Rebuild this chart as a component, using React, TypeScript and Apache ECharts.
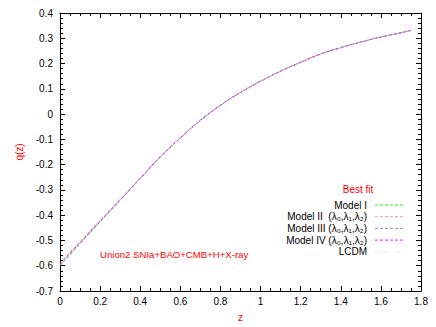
import React, { useEffect, useRef } from "react";
import * as echarts from "echarts";

const zValues = [0, 0.1, 0.2, 0.3, 0.4, 0.5, 0.6, 0.7, 0.8, 0.9, 1.0, 1.1, 1.2, 1.3, 1.4, 1.5, 1.6, 1.7, 1.75];
const modelI = [-0.600, -0.513, -0.427, -0.341, -0.255, -0.170, -0.095, -0.025, 0.035, 0.085, 0.130, 0.170, 0.205, 0.238, 0.263, 0.285, 0.305, 0.322, 0.331];
const modelII = [-0.588, -0.505, -0.421, -0.337, -0.253, -0.169, -0.094, -0.024, 0.035, 0.086, 0.130, 0.170, 0.205, 0.237, 0.263, 0.285, 0.305, 0.322, 0.332];
const modelIII = [-0.598, -0.512, -0.426, -0.340, -0.255, -0.170, -0.095, -0.025, 0.035, 0.085, 0.130, 0.170, 0.205, 0.238, 0.263, 0.285, 0.305, 0.322, 0.331];
const modelIV = [-0.592, -0.508, -0.423, -0.339, -0.254, -0.169, -0.094, -0.024, 0.035, 0.086, 0.130, 0.170, 0.205, 0.238, 0.263, 0.285, 0.305, 0.322, 0.332];
const lcdm = [-0.595, -0.510, -0.425, -0.340, -0.255, -0.170, -0.095, -0.025, 0.035, 0.085, 0.130, 0.170, 0.205, 0.238, 0.263, 0.285, 0.305, 0.322, 0.332];

const seriesNames = ["Model I", "Model II", "Model III", "Model IV", "LCDM"];
const legendLabels = ["Model I", "Model II  (λ₀,λ₁,λ₂)", "Model III (λ₀,λ₁,λ₂)", "Model IV (λ₀,λ₁,λ₂)", "LCDM"];
const seriesColors = ["#22ee22", "#f59a9a", "#8a8aee", "#ee22ee", "#dddddd"];
const seriesDash = [[3, 2], [3, 2], [3, 2], [3, 2], [1, 2]];
const seriesValues = [modelI, modelII, modelIII, modelIV, lcdm];

const FONT = "'Liberation Sans', Arial, Helvetica, sans-serif";

export default function App() {
  const ref = useRef<HTMLDivElement>(null);
  useEffect(() => {
    if (!ref.current) return;
    const chart = echarts.init(ref.current, undefined, { renderer: "svg" });
    const fmt = (v: number) => {
      const s = parseFloat(v.toFixed(1)).toString();
      return s === "-0" ? "0" : s;
    };
    const axisCommon = {
      axisLine: { show: true, onZero: false, lineStyle: { color: "#000", width: 1 } },
      axisTick: { show: true, inside: true, length: 5, lineStyle: { color: "#000" } },
      splitLine: { show: false },
    };
    const legendGraphics: any[] = [
      {
        type: "text",
        x: 358,
        y: 189,
        style: { text: "Best fit", fill: "#ff0000", font: `10px ${FONT}`, textAlign: "center", textVerticalAlign: "middle" },
      },
    ];
    legendLabels.forEach((lab, i) => {
      const y = 205 + i * 11.7;
      legendGraphics.push({
        type: "text",
        x: 367,
        y: y,
        style: { text: lab, fill: "#000", font: `10px ${FONT}`, textAlign: "right", textVerticalAlign: "middle" },
      });
      legendGraphics.push({
        type: "line",
        shape: { x1: 375, y1: y, x2: 403, y2: y },
        style: { stroke: seriesColors[i], lineWidth: 1, lineDash: seriesDash[i] },
      });
    });
    chart.setOption({
      animation: false,
      backgroundColor: "#fff",
      grid: { left: 60, top: 13, right: 15, bottom: 34, containLabel: false },
      xAxis: [
        {
          type: "value",
          min: 0,
          max: 1.8,
          interval: 0.2,
          position: "bottom",
          ...axisCommon,
          minorTick: { show: true, splitNumber: 4, length: 3, lineStyle: { color: "#000" } },
          axisLabel: { color: "#000", fontSize: 10, fontFamily: FONT, margin: 5, formatter: fmt },
          name: "z",
          nameLocation: "middle",
          nameGap: 21,
          nameTextStyle: { color: "#ff0000", fontSize: 10, fontFamily: FONT },
        },
        {
          type: "value",
          min: 0,
          max: 1.8,
          interval: 0.2,
          position: "top",
          ...axisCommon,
          minorTick: { show: true, splitNumber: 4, length: 3, lineStyle: { color: "#000" } },
          axisLabel: { show: false },
        },
      ],
      yAxis: [
        {
          type: "value",
          min: -0.7,
          max: 0.4,
          interval: 0.1,
          position: "left",
          ...axisCommon,
          minorTick: { show: true, splitNumber: 5, length: 3, lineStyle: { color: "#000" } },
          axisLabel: { color: "#000", fontSize: 10, fontFamily: FONT, margin: 7, formatter: fmt },
          name: "q(z)",
          nameLocation: "middle",
          nameGap: 36,
          nameRotate: 90,
          nameTextStyle: { color: "#ff0000", fontSize: 10, fontFamily: FONT },
        },
        {
          type: "value",
          min: -0.7,
          max: 0.4,
          interval: 0.1,
          position: "right",
          ...axisCommon,
          minorTick: { show: true, splitNumber: 5, length: 3, lineStyle: { color: "#000" } },
          axisLabel: { show: false },
        },
      ],
      series: seriesNames.map((name, i) => ({
        name,
        type: "line",
        xAxisIndex: 0,
        yAxisIndex: 0,
        smooth: true,
        showSymbol: false,
        symbol: "none",
        data: zValues.map((z, k) => [z, seriesValues[i][k]]),
        lineStyle: { color: seriesColors[i], width: 1, type: seriesDash[i] },
        itemStyle: { color: seriesColors[i] },
      })),
      graphic: [
        {
          type: "text",
          x: 100,
          y: 254,
          style: {
            text: "Union2 SNIa+BAO+CMB+H+X-ray",
            fill: "#ff0000",
            font: `9.6px ${FONT}`,
            textAlign: "left",
            textVerticalAlign: "middle",
          },
        },
        ...legendGraphics,
      ],
    });
    return () => chart.dispose();
  }, []);
  return <div ref={ref} style={{ width: 436, height: 327, position: "absolute", left: 0, top: 0 }} />;
}
